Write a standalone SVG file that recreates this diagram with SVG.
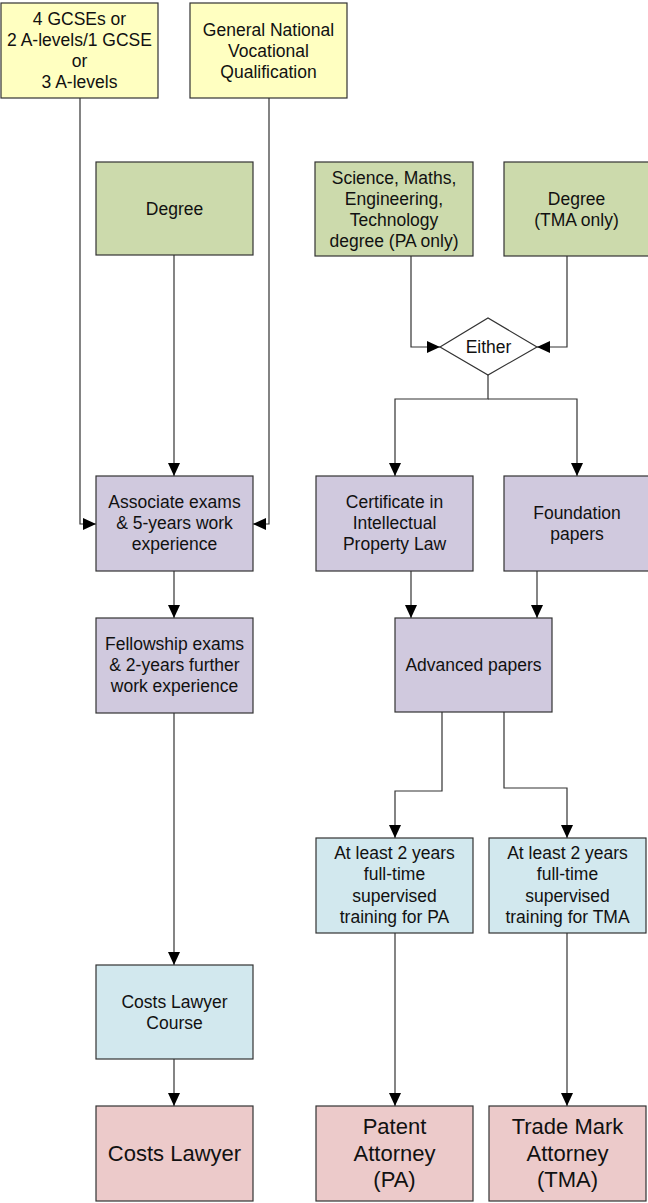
<svg xmlns="http://www.w3.org/2000/svg" width="648" height="1203" viewBox="0 0 648 1203">
<defs>
<marker id="arr" markerUnits="userSpaceOnUse" markerWidth="13" markerHeight="12" refX="13" refY="6" orient="auto">
<path d="M0,0 L13,6 L0,12 z" fill="#000"/>
</marker>
<style>
.n{stroke:#333;stroke-width:1.2}
.y{fill:#FFFFC1}.g{fill:#CCDAAC}.p{fill:#D0C9DE}.b{fill:#D2E8EE}.r{fill:#ECCACA}
text{font-family:"Liberation Sans",Arial,sans-serif;font-size:17.5px;fill:#111;text-anchor:middle}
text.big{font-size:22px}
.c{fill:none;stroke:#333;stroke-width:1.2;marker-end:url(#arr)}
.c2{fill:none;stroke:#333;stroke-width:1.2}
</style>
</defs>
<rect width="648" height="1203" fill="#fff"/>
<g id="connectors">
<path class="c" d="M80,98 V524 H96"/>
<path class="c" d="M269,98 V524 H253"/>
<path class="c" d="M174,255 V476"/>
<path class="c" d="M174,571 V618"/>
<path class="c" d="M174,713 V965"/>
<path class="c" d="M174,1059 V1106"/>
<path class="c" d="M411,256 V347 H440"/>
<path class="c" d="M567,256 V347 H537"/>
<path class="c" d="M488,375 V399 H395 V476"/>
<path class="c" d="M488,399 H577 V476"/>
<path class="c" d="M411,571 V618"/>
<path class="c" d="M537,571 V618"/>
<path class="c" d="M442,712 V791 H395 V838"/>
<path class="c" d="M504,712 V788 H567 V838"/>
<path class="c" d="M395,933 V1106"/>
<path class="c" d="M567,933 V1106"/>
</g>
<g id="gcse"><rect class="n y" x="1" y="3" width="157" height="95"/>
<text x="79.5" y="25"><tspan x="79.5">4 GCSEs or</tspan><tspan x="79.5" dy="21">2 A-levels/1 GCSE</tspan><tspan x="79.5" dy="21">or</tspan><tspan x="79.5" dy="21">3 A-levels</tspan></text></g>
<g id="gnvq"><rect class="n y" x="190" y="3" width="157" height="95"/>
<text x="268.5" y="35.5"><tspan x="268.5">General National</tspan><tspan x="268.5" dy="21">Vocational</tspan><tspan x="268.5" dy="21">Qualification</tspan></text></g>
<g id="degree"><rect class="n g" x="96" y="162" width="157" height="93"/>
<text x="174.5" y="214.5">Degree</text></g>
<g id="science"><rect class="n g" x="315" y="162" width="158" height="94"/>
<text x="394" y="183.5"><tspan x="394">Science, Maths,</tspan><tspan x="394" dy="21">Engineering,</tspan><tspan x="394" dy="21">Technology</tspan><tspan x="394" dy="21">degree (PA only)</tspan></text></g>
<g id="degree-tma"><rect class="n g" x="504" y="162" width="146" height="94"/>
<text x="576.5" y="204.5"><tspan x="576.5">Degree</tspan><tspan x="576.5" dy="21">(TMA only)</tspan></text></g>
<g id="either"><polygon points="440,347 488,318 537,347 488,375" fill="#fff" stroke="#333" stroke-width="1.2"/>
<text x="488.5" y="353">Either</text></g>
<g id="associate"><rect class="n p" x="96" y="476" width="157" height="95"/>
<text x="174.5" y="508"><tspan x="174.5">Associate exams</tspan><tspan x="174.5" dy="21">&amp; 5-years work</tspan><tspan x="174.5" dy="21">experience</tspan></text></g>
<g id="certificate"><rect class="n p" x="316" y="476" width="157" height="95"/>
<text x="394.5" y="508"><tspan x="394.5">Certificate in</tspan><tspan x="394.5" dy="21">Intellectual</tspan><tspan x="394.5" dy="21">Property Law</tspan></text></g>
<g id="foundation"><rect class="n p" x="504" y="476" width="146" height="95"/>
<text x="577" y="518.5"><tspan x="577">Foundation</tspan><tspan x="577" dy="21">papers</tspan></text></g>
<g id="fellowship"><rect class="n p" x="96" y="618" width="157" height="95"/>
<text x="174.5" y="650"><tspan x="174.5">Fellowship exams</tspan><tspan x="174.5" dy="21">&amp; 2-years further</tspan><tspan x="174.5" dy="21">work experience</tspan></text></g>
<g id="advanced"><rect class="n p" x="395" y="618" width="157" height="94"/>
<text x="473.5" y="671">Advanced papers</text></g>
<g id="training-pa"><rect class="n b" x="316" y="838" width="157" height="95"/>
<text x="394.5" y="859"><tspan x="394.5">At least 2 years</tspan><tspan x="394.5" dy="21.3">full-time</tspan><tspan x="394.5" dy="21.3">supervised</tspan><tspan x="394.5" dy="21.3">training for PA</tspan></text></g>
<g id="training-tma"><rect class="n b" x="489" y="838" width="157" height="95"/>
<text x="567.5" y="859"><tspan x="567.5">At least 2 years</tspan><tspan x="567.5" dy="21.3">full-time</tspan><tspan x="567.5" dy="21.3">supervised</tspan><tspan x="567.5" dy="21.3">training for TMA</tspan></text></g>
<g id="course"><rect class="n b" x="96" y="965" width="157" height="94"/>
<text x="174.5" y="1007.5"><tspan x="174.5">Costs Lawyer</tspan><tspan x="174.5" dy="21">Course</tspan></text></g>
<g id="costs-lawyer"><rect class="n r" x="96" y="1106" width="157" height="95"/>
<text class="big" x="174.5" y="1161">Costs Lawyer</text></g>
<g id="patent"><rect class="n r" x="316" y="1106" width="157" height="95"/>
<text class="big" x="394.5" y="1134"><tspan x="394.5">Patent</tspan><tspan x="394.5" dy="26.5">Attorney</tspan><tspan x="394.5" dy="26.5">(PA)</tspan></text></g>
<g id="trademark"><rect class="n r" x="489" y="1106" width="157" height="95"/>
<text class="big" x="567.5" y="1134"><tspan x="567.5">Trade Mark</tspan><tspan x="567.5" dy="26.5">Attorney</tspan><tspan x="567.5" dy="26.5">(TMA)</tspan></text></g>
</svg>
